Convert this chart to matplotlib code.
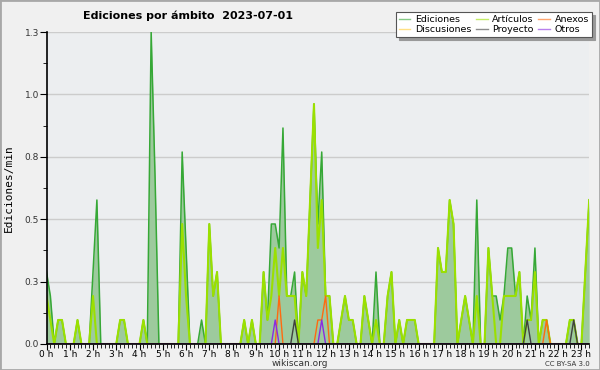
import numpy as np
import matplotlib
matplotlib.use("Agg")
import matplotlib.pyplot as plt
from matplotlib.patches import Rectangle

# Edits per minute, one value every 10 minutes from 00:00 to 23:20
ediciones = [
    0.3, 0.2, 0.0, 0.1, 0.1, 0.0, 0.0, 0.0, 0.1, 0.0, 0.0, 0.0,
    0.3, 0.6, 0.0, 0.0, 0.0, 0.0, 0.0, 0.1, 0.1, 0.0, 0.0, 0.0,
    0.0, 0.1, 0.0, 1.3, 0.7, 0.0, 0.0, 0.0, 0.0, 0.0, 0.0, 0.8,
    0.4, 0.0, 0.0, 0.0, 0.1, 0.0, 0.5, 0.2, 0.3, 0.0, 0.0, 0.0,
    0.0, 0.0, 0.0, 0.1, 0.0, 0.1, 0.0, 0.0, 0.3, 0.1, 0.5, 0.5,
    0.4, 0.9, 0.2, 0.2, 0.3, 0.0, 0.3, 0.2, 0.6, 1.0, 0.5, 0.8,
    0.2, 0.2, 0.0, 0.0, 0.1, 0.2, 0.1, 0.1, 0.0, 0.0, 0.2, 0.1,
    0.0, 0.3, 0.0, 0.0, 0.2, 0.3, 0.0, 0.1, 0.0, 0.1, 0.1, 0.1,
    0.0, 0.0, 0.0, 0.0, 0.0, 0.4, 0.3, 0.3, 0.6, 0.5, 0.0, 0.1,
    0.2, 0.1, 0.0, 0.6, 0.0, 0.0, 0.4, 0.2, 0.2, 0.1, 0.2, 0.4,
    0.4, 0.2, 0.3, 0.0, 0.2, 0.1, 0.4, 0.0, 0.1, 0.1, 0.0, 0.0,
    0.0, 0.0, 0.0, 0.1, 0.1, 0.0, 0.0, 0.3, 0.6,
]
articulos = [
    0.2, 0.1, 0.0, 0.1, 0.1, 0.0, 0.0, 0.0, 0.1, 0.0, 0.0, 0.0,
    0.2, 0.0, 0.0, 0.0, 0.0, 0.0, 0.0, 0.1, 0.1, 0.0, 0.0, 0.0,
    0.0, 0.1, 0.0, 0.0, 0.0, 0.0, 0.0, 0.0, 0.0, 0.0, 0.0, 0.5,
    0.2, 0.0, 0.0, 0.0, 0.0, 0.0, 0.5, 0.2, 0.3, 0.0, 0.0, 0.0,
    0.0, 0.0, 0.0, 0.1, 0.0, 0.1, 0.0, 0.0, 0.3, 0.1, 0.2, 0.4,
    0.2, 0.4, 0.2, 0.2, 0.2, 0.0, 0.3, 0.2, 0.6, 1.0, 0.4, 0.6,
    0.2, 0.2, 0.0, 0.0, 0.1, 0.2, 0.1, 0.1, 0.0, 0.0, 0.2, 0.1,
    0.0, 0.1, 0.0, 0.0, 0.2, 0.3, 0.0, 0.1, 0.0, 0.1, 0.1, 0.1,
    0.0, 0.0, 0.0, 0.0, 0.0, 0.4, 0.3, 0.3, 0.6, 0.5, 0.0, 0.1,
    0.2, 0.1, 0.0, 0.2, 0.0, 0.0, 0.4, 0.2, 0.0, 0.0, 0.2, 0.2,
    0.2, 0.2, 0.3, 0.0, 0.1, 0.1, 0.3, 0.0, 0.1, 0.1, 0.0, 0.0,
    0.0, 0.0, 0.0, 0.1, 0.1, 0.0, 0.0, 0.3, 0.6,
]
# sparse series: {sample index: value}
discusiones = {}
anexos = {60: 0.2, 70: 0.1, 71: 0.1, 72: 0.2, 129: 0.1}
proyecto = {64: 0.1, 124: 0.1, 136: 0.1}
otros = {59: 0.1, 71: 0.1}

hour_labels = ["%d h" % h for h in range(24)]

n = len(ediciones)
t = np.arange(n) / 6.0

def dense(d):
    v = np.zeros(n)
    for k, val in d.items():
        v[k] = val
    return v

fig = plt.figure(figsize=(6, 3.7), dpi=100, facecolor="#f0f0f0")
ax = fig.add_axes([0.0775, 0.0703, 0.9045, 0.8432], facecolor="#eceef0")

ax.fill_between(t, ediciones, 0, color="#9dca9d", lw=0, zorder=2)
ax.plot(t, ediciones, color="#36a836", lw=1.1, zorder=3, label="Ediciones")
ax.plot(t, dense(discusiones), color="#ffcc33", lw=1, zorder=3, label="Discusiones")
ax.plot(t, articulos, color="#9be000", lw=1.5, zorder=4, label="Artículos")
ax.plot(t, dense(proyecto), color="#404040", lw=1, zorder=5, label="Proyecto")
ax.plot(t, dense(anexos), color="#ff6a10", lw=1, zorder=5, label="Anexos")
ax.plot(t, dense(otros), color="#8a2be2", lw=1, zorder=5, label="Otros")

ymax = 1.3
ax.set_xlim(0, t[-1])
ax.set_ylim(0, ymax)
yt = np.linspace(0, ymax, 6)
ax.set_yticks(yt)
ax.set_yticklabels(["%.1f" % v for v in yt])
ax.set_yticks((yt[:-1] + yt[1:]) / 2, minor=True)
ax.set_xticks(np.arange(24))
ax.set_xticklabels(hour_labels)
ax.set_xticks(t, minor=True)
ax.tick_params(axis="both", which="both", direction="out", labelsize=6.5,
               colors="black", pad=0.5)
ax.tick_params(axis="x", which="major", length=4)
ax.tick_params(axis="x", which="minor", length=3)
ax.tick_params(axis="y", which="major", length=5, labelcolor="#333333")
ax.tick_params(axis="y", which="minor", length=3)
ax.grid(axis="y", which="major", color="#cccccc", lw=1, zorder=1)
ax.set_axisbelow(True)
for s in ["top", "right"]:
    ax.spines[s].set_visible(False)
for s in ["left", "bottom"]:
    ax.spines[s].set_linewidth(1.2)
    ax.spines[s].set_zorder(6)

ax.set_ylabel("Ediciones/min", family="DejaVu Sans Mono", fontsize=8, labelpad=8)

fig.text(0.313, 0.958, "Ediciones por ámbito  2023-07-01", ha="center",
         va="center", fontsize=8, fontweight="bold")
fig.text(0.5, 0.017, "wikiscan.org", ha="center", va="center", fontsize=6.5,
         color="#333333")
fig.text(0.983, 0.017, "CC BY-SA 3.0", ha="right", va="center", fontsize=5,
         color="#333333")

handles, labels = ax.get_legend_handles_labels()
leg = fig.legend(handles, labels, ncol=3, loc="upper right",
                 bbox_to_anchor=(0.987, 0.968), fontsize=6.8, frameon=True,
                 fancybox=False, shadow={"color": "#999999", "alpha": 1},
                 handlelength=1.2, handletextpad=0.5, columnspacing=0.5,
                 labelspacing=0.1, borderpad=0.35, borderaxespad=0)
leg.get_frame().set_edgecolor("#555555")
leg.get_frame().set_linewidth(0.8)
for line in leg.get_lines():
    line.set_linewidth(1.0)
    line.set_alpha(0.6)

fig.patches.append(Rectangle((0, 0), 1, 1, transform=fig.transFigure,
                             fill=False, edgecolor="#a8a8a8", lw=2))

fig.savefig("out.png", dpi=100, facecolor=fig.get_facecolor())
